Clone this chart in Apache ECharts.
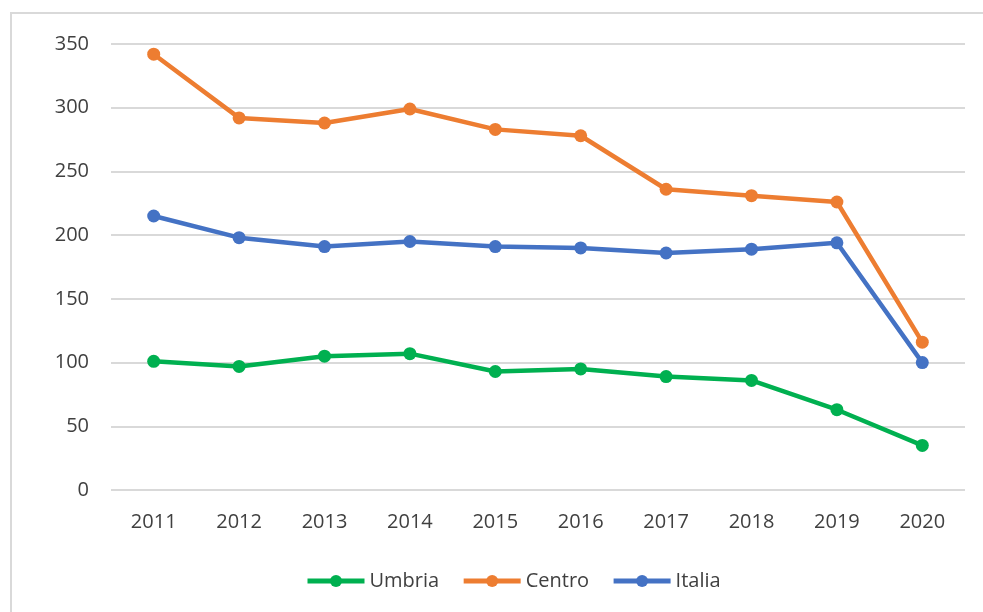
<!DOCTYPE html>
<html>
<head>
<meta charset="utf-8">
<script src="https://cdn.jsdelivr.net/npm/echarts@6/dist/echarts.min.js"></script>
<style>
html,body{margin:0;padding:0;background:#fff;}
#chart{width:983px;height:612px;}
</style>
</head>
<body>
<div id="chart"></div>
<script>
const categories = ['2011','2012','2013','2014','2015','2016','2017','2018','2019','2020'];
const umbria = [101, 97, 105, 107, 93, 95, 89, 86, 63, 35];
const centro = [342, 292, 288, 299, 283, 278, 236, 231, 226, 116];
const italia = [215, 198, 191, 195, 191, 190, 186, 189, 194, 100];
const seriesNames = ['Umbria', 'Centro', 'Italia'];
const seriesColors = ['#00B050', '#ED7D31', '#4472C4'];
const yTicks = { min: 0, max: 350, interval: 50 };

const FONT = 'Open Sans';
const chart = echarts.init(document.getElementById('chart'), null, { renderer: 'canvas' });
const mk = (name, data, color) => ({
  name, type: 'line', data,
  symbol: 'circle', symbolSize: 13,
  lineStyle: { width: 4.5, color },
  itemStyle: { color },
  emphasis: { disabled: true },
  animation: false
});
chart.setOption({
  backgroundColor: '#fff',
  textStyle: { fontFamily: FONT },
  graphic: [{
    type: 'rect', silent: true,
    shape: { x: 11, y: 13, width: 1000, height: 700 },
    style: { fill: 'none', stroke: '#d9d9d9', lineWidth: 2 }
  }],
  grid: { left: 111, right: 18, top: 44, bottom: 122, containLabel: false },
  legend: {
    data: seriesNames,
    left: 300, top: 566,
    itemWidth: 57, itemHeight: 15, itemGap: 22,
    lineStyle: { width: 5 },
    textStyle: { fontFamily: FONT, fontSize: 20, color: '#404040' }
  },
  xAxis: {
    type: 'category', data: categories, boundaryGap: true,
    axisLine: { show: false }, axisTick: { show: false },
    axisLabel: { fontFamily: FONT, fontSize: 20, color: '#404040', margin: 22 }
  },
  yAxis: {
    type: 'value', min: yTicks.min, max: yTicks.max, interval: yTicks.interval,
    axisLine: { show: false }, axisTick: { show: false },
    axisLabel: { fontFamily: FONT, fontSize: 20, color: '#404040', margin: 22 },
    splitLine: { lineStyle: { color: '#d9d9d9', width: 2 } }
  },
  series: [
    mk(seriesNames[0], umbria, seriesColors[0]),
    mk(seriesNames[1], centro, seriesColors[1]),
    mk(seriesNames[2], italia, seriesColors[2])
  ]
});
</script>
</body>
</html>
